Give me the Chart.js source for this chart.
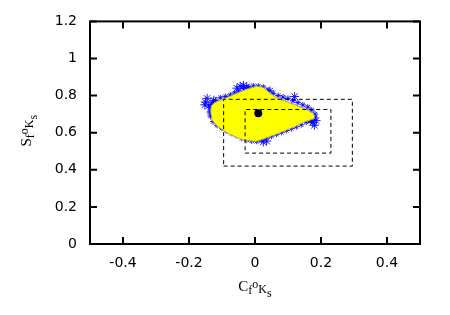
<!DOCTYPE html>
<html>
<head>
<meta charset="utf-8">
<script src="https://cdn.jsdelivr.net/npm/chart.js@4.4.1/dist/chart.umd.min.js"></script>
<style>
  body { margin: 0; background: #fff; }
  canvas { display: block; }
</style>
</head>
<body>
<canvas id="plot" width="450" height="315"></canvas>
<script>
// axis ticks
const xTicks = [-0.4, -0.2, 0, 0.2, 0.4];
const yTicks = [0, 0.2, 0.4, 0.6, 0.8, 1, 1.2];

// outline of the yellow region
const regionX = [-0.134, -0.132, -0.119, -0.084, -0.050, -0.020, 0.005, 0.023, 0.062, 0.113, 0.153, 0.178, 0.180, 0.153, 0.122, 0.072, 0.032, 0.002, -0.040, -0.080, -0.112, -0.130, -0.134];
const regionY = [0.712, 0.745, 0.765, 0.790, 0.817, 0.837, 0.850, 0.845, 0.792, 0.755, 0.728, 0.701, 0.677, 0.660, 0.633, 0.597, 0.570, 0.553, 0.563, 0.595, 0.632, 0.668, 0.712];

// sample points along the edge (small blue stars)
const edgeX = [-0.138, -0.136, -0.133, -0.128, -0.120, -0.105, -0.090, -0.075, -0.062, -0.050, -0.035, -0.020,
  -0.005, 0.010, 0.025, 0.040, 0.055, 0.070, 0.085, 0.100, 0.115, 0.130, 0.145, 0.160, 0.172, 0.182,
  0.182, 0.170, 0.155, 0.140, 0.125, 0.110, 0.095, 0.080, 0.065, 0.050, 0.035, 0.020, 0.005,
  -0.010, -0.025, -0.040, -0.055, -0.070, -0.085, -0.100, -0.115, -0.127, -0.135];
const edgeY = [0.712, 0.735, 0.752, 0.765, 0.775, 0.788, 0.795, 0.803, 0.815, 0.825, 0.838, 0.845,
  0.852, 0.851, 0.846, 0.830, 0.812, 0.800, 0.792, 0.785, 0.772, 0.762, 0.750, 0.738, 0.722, 0.700,
  0.680, 0.662, 0.657, 0.643, 0.632, 0.622, 0.612, 0.602, 0.592, 0.582, 0.572, 0.562, 0.554,
  0.556, 0.562, 0.570, 0.585, 0.596, 0.610, 0.625, 0.640, 0.660, 0.690];

// clumps of sample points sticking out (larger blue stars)
const clumpX = [-0.150, -0.145, -0.140, -0.152, -0.125, -0.055, -0.045, -0.035, -0.025, 0.045, 0.120, 0.175, 0.180, 0.170, 0.185, 0.025, 0.035];
const clumpY = [0.765, 0.785, 0.745, 0.750, 0.775, 0.840, 0.850, 0.855, 0.848, 0.825, 0.795, 0.655, 0.640, 0.670, 0.665, 0.550, 0.555];

// dashed boxes: [xmin, xmax, ymin, ymax]
const outerBox = [-0.095, 0.295, 0.42, 0.78];
const innerBox = [-0.03, 0.23, 0.49, 0.725];

// central estimate
const centerX = [0.01];
const centerY = [0.705];

function pairs(xs, ys) {
  return xs.map((x, i) => ({ x: x, y: ys[i] }));
}

function boxPoints(b) {
  return [
    { x: b[0], y: b[2] }, { x: b[1], y: b[2] }, { x: b[1], y: b[3] },
    { x: b[0], y: b[3] }, { x: b[0], y: b[2] }
  ];
}

function drawRich(ctx, parts, x, y) {
  let cx = x;
  for (const p of parts) {
    ctx.font = p.size + 'px "Liberation Serif"';
    ctx.fillText(p.t, cx, y + p.dy);
    cx += ctx.measureText(p.t).width;
  }
}

function richWidth(ctx, parts) {
  let w = 0;
  for (const p of parts) {
    ctx.font = p.size + 'px "Liberation Serif"';
    w += ctx.measureText(p.t).width;
  }
  return w;
}

const xTitle = [
  { t: 'C', size: 15, dy: 0 }, { t: 'f', size: 12, dy: 3 }, { t: 'o', size: 12, dy: -3 },
  { t: 'K', size: 12, dy: 2 }, { t: 's', size: 12, dy: 6 }
];
const yTitle = [
  { t: 'S', size: 15, dy: 0 }, { t: 'f', size: 12, dy: 3 }, { t: 'o', size: 12, dy: -3 },
  { t: 'K', size: 12, dy: 2 }, { t: 's', size: 12, dy: 6 }
];

const framePlugin = {
  id: 'frame',
  afterDraw(chart) {
    const ctx = chart.ctx;
    const a = chart.chartArea;
    const xs = chart.scales.x;
    const ys = chart.scales.y;
    ctx.save();
    ctx.strokeStyle = '#000';
    ctx.lineWidth = 2;
    ctx.setLineDash([]);
    ctx.strokeRect(a.left, a.top, a.right - a.left, a.bottom - a.top);
    ctx.beginPath();
    const len = 7;
    xTicks.forEach(v => {
      const px = xs.getPixelForValue(v);
      ctx.moveTo(px, a.bottom); ctx.lineTo(px, a.bottom - len);
      ctx.moveTo(px, a.top); ctx.lineTo(px, a.top + len);
    });
    yTicks.forEach(v => {
      const py = ys.getPixelForValue(v);
      ctx.moveTo(a.left, py); ctx.lineTo(a.left + len, py);
      ctx.moveTo(a.right, py); ctx.lineTo(a.right - len, py);
    });
    ctx.stroke();

    ctx.fillStyle = '#000';
    ctx.textBaseline = 'alphabetic';
    ctx.textAlign = 'left';
    const wx = richWidth(ctx, xTitle);
    drawRich(ctx, xTitle, (a.left + a.right) / 2 - wx / 2, 291);

    const wy = richWidth(ctx, yTitle);
    ctx.translate(31, (a.top + a.bottom) / 2 + wy / 2 - 2);
    ctx.rotate(-Math.PI / 2);
    drawRich(ctx, yTitle, 0, 0);
    ctx.restore();
  }
};

function fmt(v) {
  return String(Math.round(v * 10) / 10);
}

new Chart(document.getElementById('plot'), {
  type: 'scatter',
  data: {
    datasets: [
      {
        data: pairs(centerX, centerY),
        pointStyle: 'circle',
        pointRadius: 4,
        backgroundColor: '#000',
        borderColor: '#000',
        borderWidth: 0
      },
      {
        data: boxPoints(innerBox),
        showLine: true,
        borderColor: '#000',
        borderWidth: 1,
        borderDash: [4, 3],
        pointRadius: 0,
        fill: false
      },
      {
        data: boxPoints(outerBox),
        showLine: true,
        borderColor: '#000',
        borderWidth: 1,
        borderDash: [4, 3],
        pointRadius: 0,
        fill: false
      },
      {
        data: pairs(regionX, regionY),
        showLine: true,
        borderColor: '#a8a830',
        borderWidth: 1,
        backgroundColor: '#ffff00',
        pointRadius: 0,
        tension: 0.1,
        fill: 'shape'
      },
      {
        data: pairs(edgeX, edgeY),
        pointStyle: 'star',
        pointRadius: 3,
        borderColor: '#0000ff',
        backgroundColor: '#0000ff',
        borderWidth: 0.9
      },
      {
        data: pairs(clumpX, clumpY),
        pointStyle: 'star',
        pointRadius: 4.5,
        borderColor: '#0000ff',
        backgroundColor: '#0000ff',
        borderWidth: 0.9
      }
    ]
  },
  options: {
    responsive: false,
    animation: false,
    devicePixelRatio: 1,
    layout: { padding: { top: 20, right: 30, left: 0, bottom: 0 } },
    plugins: { legend: { display: false }, tooltip: { enabled: false } },
    scales: {
      x: {
        type: 'linear',
        min: -0.5,
        max: 0.5,
        afterBuildTicks: s => { s.ticks = xTicks.map(v => ({ value: v })); },
        afterFit: s => { s.height = 71; },
        grid: { display: false, drawTicks: false },
        border: { display: false },
        ticks: {
          padding: 11,
          color: '#000',
          font: { family: 'DejaVu Sans', size: 14 },
          maxRotation: 0,
          callback: v => fmt(v)
        }
      },
      y: {
        type: 'linear',
        min: 0,
        max: 1.2,
        afterBuildTicks: s => { s.ticks = yTicks.map(v => ({ value: v })); },
        afterFit: s => { s.width = 90; },
        grid: { display: false, drawTicks: false },
        border: { display: false },
        ticks: {
          padding: 13,
          color: '#000',
          font: { family: 'DejaVu Sans', size: 14 },
          callback: v => fmt(v)
        }
      }
    }
  },
  plugins: [framePlugin]
});
</script>
</body>
</html>
